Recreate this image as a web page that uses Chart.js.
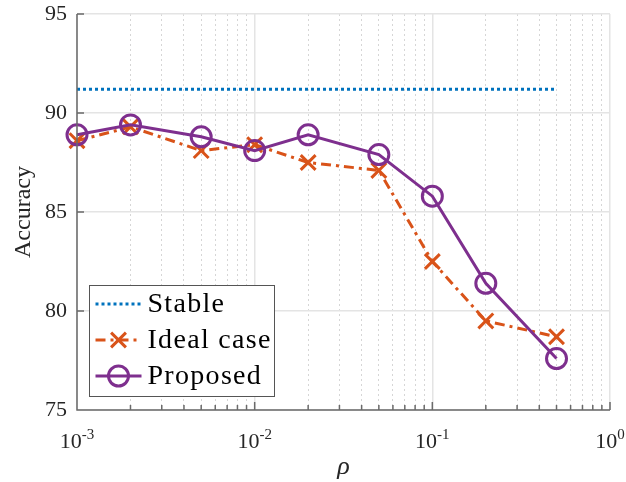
<!DOCTYPE html>
<html>
<head>
<meta charset="utf-8">
<script src="https://cdn.jsdelivr.net/npm/chart.js@4.4.1/dist/chart.umd.min.js"></script>
<style>
  html, body { margin: 0; padding: 0; background: #fff; }
</style>
</head>
<body>
<canvas id="chart" width="626" height="482"></canvas>
<script>
// --- datos ---
const RHO = [0.001, 0.002, 0.005, 0.01, 0.02, 0.05, 0.1, 0.2, 0.5];
const STABLE = [91.2, 91.2, 91.2, 91.2, 91.2, 91.2, 91.2, 91.2, 91.2];
const IDEAL = [88.6, 89.3, 88.1, 88.4, 87.5, 87.1, 82.5, 79.5, 78.7];
const PROPOSED = [88.9, 89.4, 88.8, 88.1, 88.9, 87.9, 85.8, 81.4, 77.6];

const X_DECADES = [0.001, 0.01, 0.1, 1];
const X_EXPONENTS = ['-3', '-2', '-1', '0'];
const Y_TICKS = [75, 80, 85, 90, 95];

const AXIS_COLOR = '#6a6a6a';
const TEXT_COLOR = '#262626';
const SERIF = '"Liberation Serif", "Times New Roman", serif';

const toPoints = vals => RHO.map((r, i) => ({ x: r, y: vals[i] }));

// ticks menores 2..9 en cada década
function buildLogTicks() {
    const ticks = [];
    X_DECADES.forEach((d, i) => {
        ticks.push({ value: d, major: true });
        if (i < X_DECADES.length - 1) {
            for (let k = 2; k <= 9; k++) ticks.push({ value: k * d, major: false });
        }
    });
    return ticks;
}

// --- ejes estilo MATLAB: líneas, ticks hacia dentro, etiquetas 10^n ---
const matlabAxes = {
    id: 'matlabAxes',
    afterDatasetsDraw(chart) {
        const { ctx, chartArea: a, scales: { x, y } } = chart;
        ctx.save();
        ctx.strokeStyle = AXIS_COLOR;
        ctx.lineWidth = 1.5;
        ctx.beginPath();
        ctx.moveTo(a.left, a.top);
        ctx.lineTo(a.left, a.bottom);
        ctx.lineTo(a.right, a.bottom);
        x.ticks.forEach(t => {
            const px = x.getPixelForValue(t.value);
            ctx.moveTo(px, a.bottom);
            ctx.lineTo(px, a.bottom - (t.major ? 8 : 5));
        });
        y.ticks.forEach(t => {
            const py = y.getPixelForValue(t.value);
            ctx.moveTo(a.left, py);
            ctx.lineTo(a.left + 7, py);
        });
        ctx.stroke();

        // etiquetas del eje x
        ctx.fillStyle = TEXT_COLOR;
        ctx.textBaseline = 'alphabetic';
        ctx.textAlign = 'left';
        X_DECADES.forEach((d, i) => {
            const px = x.getPixelForValue(d);
            ctx.font = '22px ' + SERIF;
            const wBase = ctx.measureText('10').width;
            ctx.font = '15px ' + SERIF;
            const wExp = ctx.measureText(X_EXPONENTS[i]).width;
            const x0 = px - (wBase + wExp) / 2;
            ctx.font = '22px ' + SERIF;
            ctx.fillText('10', x0, a.bottom + 38);
            ctx.font = '15px ' + SERIF;
            ctx.fillText(X_EXPONENTS[i], x0 + wBase, a.bottom + 29);
        });
        ctx.restore();
    },
    afterDraw(chart) {
        // leyenda dentro del área
        const { ctx, chartArea: a } = chart;
        const bx = a.left + 12.5, by = 285.5, bw = 185, bh = 111;
        ctx.save();
        ctx.fillStyle = '#fff';
        ctx.fillRect(bx, by, bw, bh);
        ctx.strokeStyle = '#555';
        ctx.lineWidth = 1;
        ctx.strokeRect(bx, by, bw, bh);

        chart.data.datasets.forEach((ds, i) => {
            const ry = by + 18.5 + i * 36;
            const x0 = bx + 6, x1 = bx + 52, xm = (x0 + x1) / 2;
            ctx.strokeStyle = ds.borderColor;
            ctx.lineWidth = ds.borderWidth;
            ctx.setLineDash(ds.borderDash || []);
            ctx.beginPath();
            ctx.moveTo(x0, ry);
            ctx.lineTo(x1, ry);
            ctx.stroke();
            ctx.setLineDash([]);
            ctx.lineWidth = ds.pointBorderWidth || 3;
            if (ds.pointStyle === 'circle' && ds.pointRadius > 0) {
                ctx.beginPath();
                ctx.arc(xm, ry, ds.pointRadius, 0, Math.PI * 2);
                ctx.stroke();
            } else if (ds.pointStyle === 'crossRot' && ds.pointRadius > 0) {
                const r = ds.pointRadius * Math.SQRT1_2;
                ctx.beginPath();
                ctx.moveTo(xm - r, ry - r); ctx.lineTo(xm + r, ry + r);
                ctx.moveTo(xm - r, ry + r); ctx.lineTo(xm + r, ry - r);
                ctx.stroke();
            }
            ctx.fillStyle = '#000';
            ctx.font = '28px ' + SERIF;
            ctx.letterSpacing = '1.3px';
            ctx.textBaseline = 'middle';
            ctx.textAlign = 'left';
            ctx.fillText(ds.label, bx + 58, ry + 1);
        });
        ctx.restore();
    }
};

new Chart(document.getElementById('chart'), {
    type: 'line',
    data: {
        datasets: [
            {
                label: 'Stable',
                data: toPoints(STABLE),
                borderColor: '#0072BD',
                borderWidth: 3,
                borderDash: [3, 3],
                pointRadius: 0,
                fill: false,
                order: 2
            },
            {
                label: 'Ideal case',
                data: toPoints(IDEAL),
                borderColor: '#D95319',
                borderWidth: 3,
                borderDash: [10, 5, 3, 5],
                pointStyle: 'crossRot',
                pointRadius: 10.5,
                pointBorderWidth: 3,
                pointBorderColor: '#D95319',
                fill: false,
                order: 1
            },
            {
                label: 'Proposed',
                data: toPoints(PROPOSED),
                borderColor: '#7E2F8E',
                borderWidth: 3,
                pointStyle: 'circle',
                pointRadius: 10,
                pointBorderWidth: 3,
                pointBorderColor: '#7E2F8E',
                pointBackgroundColor: 'rgba(0,0,0,0)',
                fill: false,
                order: 0
            }
        ]
    },
    options: {
        responsive: false,
        animation: false,
        devicePixelRatio: 1,
        clip: false,
        layout: { padding: { top: 14, right: 16, bottom: 0, left: 0 } },
        plugins: { legend: { display: false }, tooltip: { enabled: false } },
        scales: {
            x: {
                type: 'logarithmic',
                min: 0.001,
                max: 1,
                afterBuildTicks: scale => { scale.ticks = buildLogTicks(); },
                afterFit: scale => {
                    scale.height = 72;
                    scale.paddingLeft = 0;
                    scale.paddingRight = 0;
                },
                ticks: { display: false, autoSkip: false },
                grid: {
                    drawTicks: false,
                    color: ctx => (ctx.tick && ctx.tick.major) ? '#e4e4e4' : '#d6d6d6',
                    lineWidth: ctx => (ctx.tick && ctx.tick.major) ? 1.5 : 1
                },
                border: {
                    display: false,
                    dash: ctx => (ctx.tick && ctx.tick.major) ? [] : [2, 3]
                },
                title: {
                    display: true,
                    text: 'ρ',
                    color: TEXT_COLOR,
                    font: { family: SERIF, size: 26, style: 'italic', lineHeight: 1 },
                    padding: { top: 0, bottom: 2 }
                }
            },
            y: {
                min: 75,
                max: 95,
                afterBuildTicks: scale => { scale.ticks = Y_TICKS.map(v => ({ value: v })); },
                afterFit: scale => {
                    scale.width = 77;
                    scale.paddingTop = 0;
                    scale.paddingBottom = 0;
                },
                ticks: {
                    color: TEXT_COLOR,
                    padding: 10,
                    font: { family: SERIF, size: 22 }
                },
                grid: { drawTicks: false, color: '#e4e4e4', lineWidth: 1.5 },
                border: { display: false },
                title: {
                    display: true,
                    text: 'Accuracy',
                    color: TEXT_COLOR,
                    font: { family: SERIF, size: 24 },
                    padding: { top: 9, bottom: 0 }
                }
            }
        }
    },
    plugins: [matlabAxes]
});
</script>
</body>
</html>
